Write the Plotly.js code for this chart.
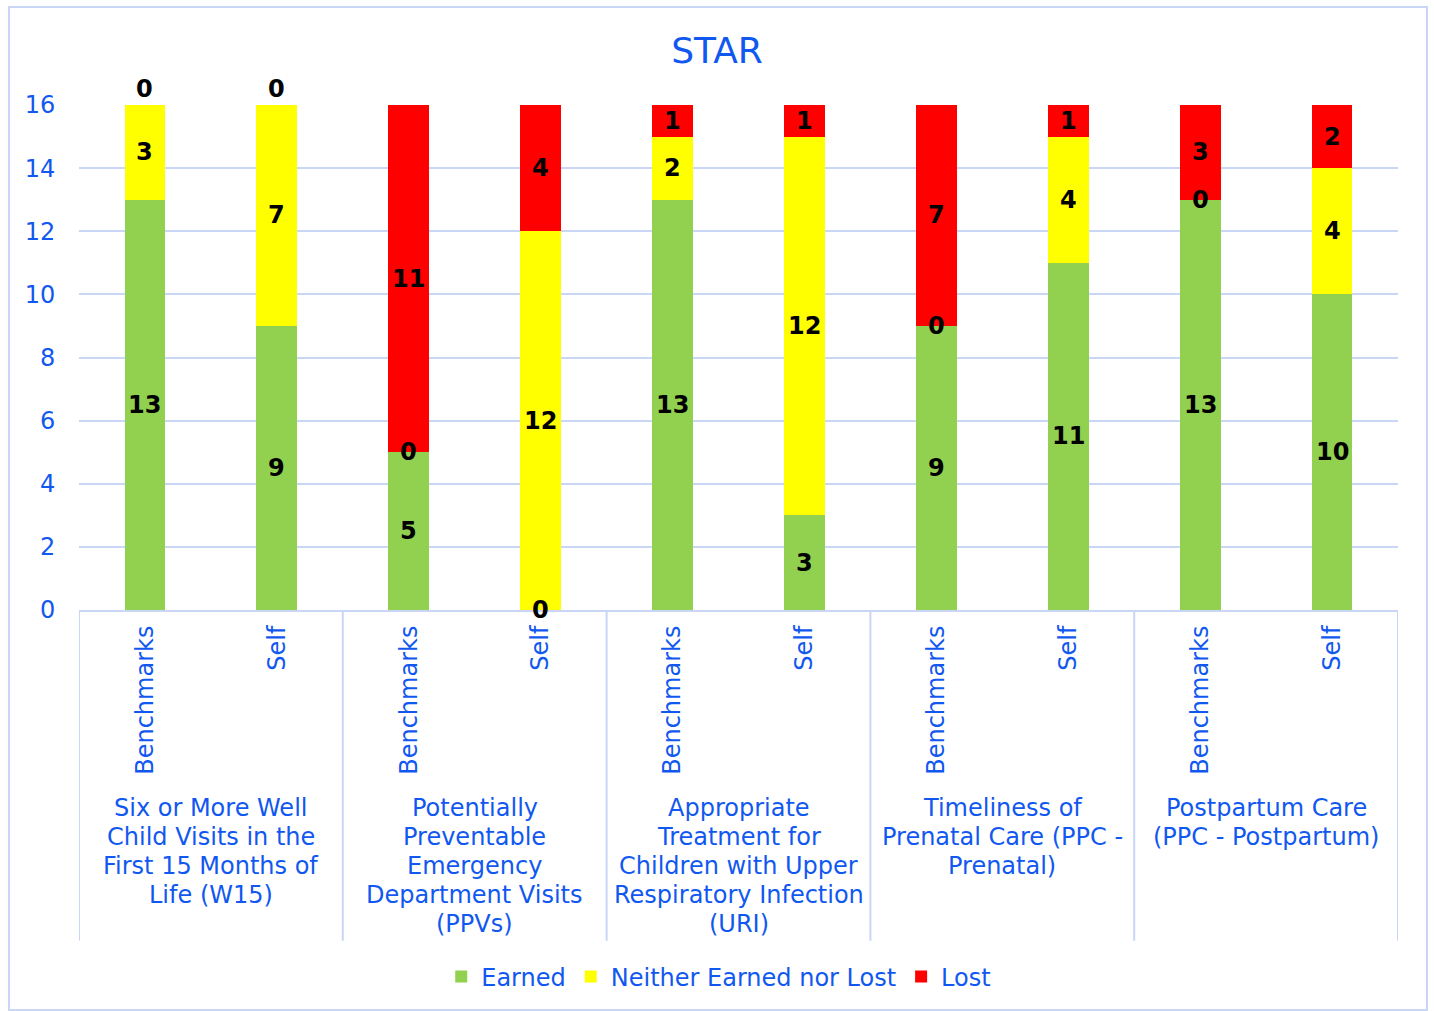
<!DOCTYPE html>
<html>
<head>
<meta charset="utf-8">
<script src="https://cdn.plot.ly/plotly-3.0.1.min.js"></script>
<style>
  html, body { margin: 0; padding: 0; background: #ffffff; }
  #wrap { position: relative; width: 1434px; height: 1011px; }
  #chart { position: absolute; left: 0; top: 0; width: 1434px; height: 1011px; }
  #frame { position: absolute; left: 8px; top: 6px; width: 1420px; height: 1005px;
           border: 2px solid #C9D6F6; box-sizing: border-box; pointer-events: none; }
</style>
</head>
<body>
<div id="wrap">
  <div id="chart"></div>
  <div id="frame"></div>
</div>
<script>
// ---- data ----
const groupLabels = [
  ["Six or More Well", "Child Visits in the", "First 15 Months of", "Life (W15)"],
  ["Potentially", "Preventable", "Emergency", "Department Visits", "(PPVs)"],
  ["Appropriate", "Treatment for", "Children with Upper", "Respiratory Infection", "(URI)"],
  ["Timeliness of", "Prenatal Care (PPC -", "Prenatal)"],
  ["Postpartum Care", "(PPC - Postpartum)"]
];
const subLabels = ["Benchmarks", "Self"];
const earned  = [13, 9, 5, 0, 13, 3, 9, 11, 13, 10];
const neither = [3, 7, 0, 12, 2, 12, 0, 4, 0, 4];
const lost    = [0, 0, 11, 4, 1, 1, 7, 1, 3, 2];
const yTicks  = [0, 2, 4, 6, 8, 10, 12, 14, 16];

// ---- styling ----
const BLUE = "#1158F0";
const GRID = "#C9D6F6";
const FONT = "DejaVu Sans, Verdana, sans-serif";

const keys = [], tickText = [];
groupLabels.forEach((g, gi) => subLabels.forEach(s => { keys.push("g" + gi + "-" + s); tickText.push(s); }));

const series = [
  { name: "Earned", values: earned, color: "#92D050" },
  { name: "Neither Earned nor Lost", values: neither, color: "#FFFF00" },
  { name: "Lost", values: lost, color: "#FF0000" }
];

const traces = series.map(s => ({
  type: "bar", name: s.name, x: keys, y: s.values,
  marker: { color: s.color, line: { width: 0 } },
  hoverinfo: "skip"
}));

const yMax = yTicks[yTicks.length - 1];
const annotations = [];
// data labels at segment centres (including zero segments, as in the source)
keys.forEach((k, i) => {
  let base = 0;
  series.forEach(s => {
    const v = s.values[i];
    const yc = base + v / 2;
    const atTop = (v === 0 && yc >= yMax);
    annotations.push({
      xref: "x", yref: "y", x: i, y: yc, text: String(v), showarrow: false,
      yanchor: atTop ? "bottom" : "middle",
      font: { family: FONT, size: 24, color: "#000000", weight: "bold" }
    });
    base += v;
  });
});
// group labels (one annotation per line)
groupLabels.forEach((lines, gi) => {
  lines.forEach((ln, li) => {
    annotations.push({
      xref: "x", yref: "paper", x: gi * subLabels.length + (subLabels.length - 1) / 2, y: 0,
      yanchor: "middle", yshift: -(198 + li * 29), text: ln, showarrow: false,
      font: { family: FONT, size: 24, color: BLUE }
    });
  });
});

// group divider lines below the axis
const shapes = [];
for (let gi = 0; gi <= groupLabels.length; gi++) {
  const xv = gi * subLabels.length - 0.5;
  shapes.push({ type: "line", xref: "x", yref: "paper", x0: xv, x1: xv, y0: 0, y1: -0.655,
    line: { color: GRID, width: 2 } });
}

const layout = {
  width: 1434, height: 1011,
  margin: { l: 79, r: 36, t: 105, b: 401 },
  paper_bgcolor: "#ffffff", plot_bgcolor: "#ffffff",
  barmode: "stack", bargap: 0.69,
  title: { text: "STAR", x: 0.5, xanchor: "center", y: 1 - 50 / 1011, yanchor: "middle", yref: "container",
    font: { family: FONT, size: 36, color: BLUE } },
  xaxis: {
    type: "category", range: [-0.5, keys.length - 0.5],
    tickvals: keys, ticktext: tickText, tickangle: -90,
    ticks: "outside", ticklen: 4, tickcolor: "rgba(0,0,0,0)",
    tickfont: { family: FONT, size: 24, color: BLUE },
    showline: true, linecolor: GRID, linewidth: 2, showgrid: false, zeroline: false
  },
  yaxis: {
    range: [0, yMax], tickvals: yTicks,
    ticks: "outside", ticklen: 18, tickcolor: "rgba(0,0,0,0)",
    tickfont: { family: FONT, size: 24, color: BLUE },
    showgrid: true, gridcolor: GRID, gridwidth: 2, zeroline: false, showline: false
  },
  showlegend: true,
  legend: { orientation: "h", x: 0.485, xanchor: "center", y: -(367 / 505), yanchor: "middle",
    font: { family: FONT, size: 24, color: BLUE }, traceorder: "normal", itemclick: false,
    itemwidth: 30 },
  annotations: annotations, shapes: shapes
};

Plotly.newPlot("chart", traces, layout, { displayModeBar: false, staticPlot: true });
</script>
</body>
</html>
